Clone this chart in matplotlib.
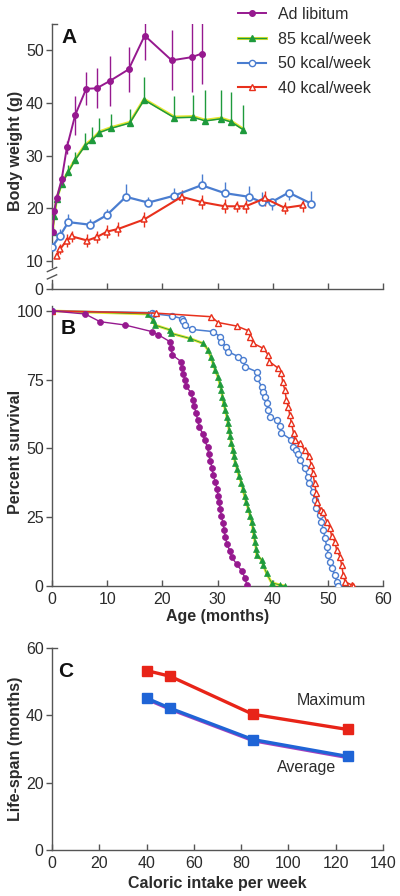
import matplotlib
matplotlib.use("Agg")
import matplotlib.pyplot as plt
from matplotlib.lines import Line2D
import matplotlib.transforms as mtrans
import numpy as np

plt.rcParams['font.family'] = ['Liberation Sans', 'DejaVu Sans']

# ---------------- Panel A: body weight ----------------
adlib_age = [0.1, 0.4, 0.85, 1.75, 2.7, 4.2, 6.2, 8.1, 10.5, 13.9, 16.8, 21.7, 25.3, 27.2]
adlib_wt = [15.5, 19.5, 22.0, 25.5, 31.6, 37.7, 42.7, 42.8, 44.2, 46.4, 52.8, 48.1, 48.7, 49.4]
adlib_err = [0.5, 0.8, 0.8, 1.0, 1.2, 3.7, 3.1, 3.8, 4.7, 4.3, 4.6, 5.7, 6.6, 5.8]

k85_age = [0.1, 0.4, 0.85, 1.75, 2.95, 4.2, 6.0, 7.2, 8.6, 10.7, 14.1, 16.7, 22.2, 25.6, 27.8, 30.6, 32.5, 34.7]
k85_wt = [15.6, 18.5, 21.7, 24.6, 26.9, 29.2, 31.9, 32.9, 34.4, 35.2, 36.2, 40.6, 37.2, 37.3, 36.6, 37.0, 36.4, 34.9]
k85_err = [0.8, 1.0, 1.0, 1.2, 1.3, 1.5, 2.5, 2.5, 2.8, 2.8, 2.7, 4.4, 4.1, 4.2, 5.8, 5.5, 5.6, 4.7]

k50_age = [0.05, 1.45, 2.95, 6.9, 9.9, 13.4, 17.45, 22.1, 27.1, 31.3, 35.7, 38.0, 39.8, 42.9, 47.0]
k50_wt = [12.75, 14.8, 17.4, 16.9, 18.7, 22.2, 21.1, 22.4, 24.4, 22.9, 22.2, 21.2, 21.2, 23.0, 20.9]
k50_err_up = [0.5, 1.2, 1.5, 1.0, 1.2, 2.4, 1.0, 1.5, 2.1, 2.1, 2.1, 1.9, 0.3, 0.3, 2.4]
k50_err_dn = [0, 0, 0, 0, 0, 0, 0, 0, 0, 0, 0, 0, 1.5, 1.5, 0]

k40_age = [0.85, 1.45, 2.65, 3.55, 6.4, 8.1, 10.0, 12.0, 16.7, 23.5, 27.1, 31.3, 33.6, 35.1, 38.6, 42.2, 45.5]
k40_wt = [11.0, 12.25, 13.9, 14.7, 13.9, 14.55, 15.6, 16.1, 17.9, 22.2, 21.2, 20.4, 20.4, 20.4, 21.9, 20.1, 20.6]
k40_err = [0.5, 1.0, 1.2, 1.0, 1.3, 1.2, 1.2, 1.3, 1.4, 1.3, 1.3, 1.3, 1.0, 1.2, 1.4, 1.2, 1.2]

# ---------------- Panel B: survival ----------------
sv_adlib_age = [0, 6.0, 8.7, 13.2, 18.1, 19.3, 21.4, 21.6, 21.8, 23.4, 23.6, 23.8, 24.1, 24.3, 25.2, 25.5,
                25.8, 26.1, 26.4, 26.7, 27.3, 27.7, 28.2, 28.4, 28.7, 29.0, 29.2, 29.6, 29.9, 30.1, 30.3,
                30.5, 30.7, 31.0, 31.2, 31.4, 31.7, 32.2, 32.6, 33.5, 34.4, 35.0, 35.3]
sv_adlib = [100, 98.9, 96.1, 94.9, 92.5, 91.3, 88.8, 86.5, 84.0, 81.6, 79.2, 77.0, 75.0, 72.6, 70.3, 67.8,
            65.3, 62.8, 60.3, 57.8, 55.4, 52.9, 50.4, 47.9, 45.4, 42.9, 40.4, 37.9, 35.4, 32.9, 30.4,
            27.9, 25.4, 22.9, 20.4, 17.9, 15.4, 12.9, 10.4, 7.9, 5.4, 2.9, 0.4]

sv_k85_age = [0, 17.4, 18.3, 18.6, 21.4, 21.5, 25.0, 27.4, 28.3, 28.8, 29.2, 29.6, 30.1, 30.4, 30.7, 30.9,
              31.1, 31.4, 31.7, 31.9, 32.1, 32.3, 32.5, 32.8, 33.0, 33.2, 33.6, 33.9, 34.3, 34.6, 34.9,
              35.2, 35.6, 35.9, 36.2, 36.4, 36.6, 36.8, 37.0, 37.1, 38.0, 38.3, 38.9, 39.8, 41.3, 42.2]
sv_k85 = [100, 98.9, 96.7, 94.9, 93.1, 91.9, 90.0, 88.2, 85.8, 83.2, 80.8, 78.4, 76.0, 73.6, 71.2, 68.8,
          66.4, 64.0, 61.6, 59.2, 56.8, 54.4, 52.0, 49.6, 47.2, 44.8, 42.4, 40.0, 37.6, 35.2, 32.8,
          30.4, 28.0, 25.6, 23.2, 20.8, 18.4, 16.0, 13.6, 11.2, 9.5, 7.6, 4.6, 1.2, 0.4, 0]

sv_k50_age = [0, 18.1, 18.4, 21.7, 23.6, 23.8, 24.1, 25.3, 29.2, 30.4, 30.7, 31.6, 31.9, 33.8, 34.7, 35.0,
              37.1, 37.2, 38.0, 38.2, 38.6, 38.9, 39.2, 39.5, 40.7, 41.3, 41.6, 43.4, 43.7, 44.3, 44.6,
              44.9, 45.8, 46.4, 46.6, 47.3, 47.6, 47.9, 48.5, 48.8, 49.2, 49.5, 49.8, 50.1, 50.4, 50.7,
              51.3, 51.6, 51.9]
sv_k50 = [100, 99.4, 99.0, 98.2, 97.2, 96.5, 95.0, 93.3, 92.5, 90.7, 88.8, 87.0, 85.2, 83.4, 82.2, 79.7,
          77.9, 75.5, 72.5, 70.7, 68.8, 66.4, 64.0, 61.6, 60.4, 58.0, 55.6, 53.1, 50.7, 49.5, 48.0,
          45.8, 42.8, 39.7, 37.3, 34.3, 31.3, 28.2, 25.8, 23.4, 20.4, 17.3, 14.3, 11.3, 8.8, 6.4,
          4.0, 1.6, 0]

sv_k40_age = [0, 18.9, 28.9, 30.1, 33.5, 35.6, 35.9, 36.5, 38.3, 39.2, 39.4, 41.0, 41.6, 41.8, 42.2, 42.5,
              42.8, 43.1, 43.4, 43.8, 44.0, 44.9, 45.8, 46.6, 47.0, 47.3, 47.6, 47.9, 48.0, 48.8, 49.1,
              49.8, 50.4, 50.7, 51.3, 51.6, 52.2, 52.5, 52.8, 53.1, 54.3, 54.6]
sv_k40 = [100, 99.2, 97.9, 95.8, 94.5, 92.8, 90.5, 88.2, 86.4, 84.0, 81.6, 79.2, 77.3, 74.3, 71.3, 67.6,
          65.2, 62.2, 59.2, 55.5, 53.1, 51.9, 49.5, 47.1, 44.0, 41.0, 37.3, 33.7, 30.5, 27.6, 27.0,
          23.4, 21.0, 18.0, 16.0, 13.0, 10.7, 7.6, 4.0, 1.6, 0.4, 0]

# ---------------- Panel C: life span ----------------
cal_intake = [40, 50, 85, 125]
max_life = [53.3, 51.6, 40.3, 35.8]
avg_life = [45.1, 42.1, 32.8, 27.8]

PURPLE = '#96198f'
GREEN = '#1e9a3c'
YELLOW = '#e6e630'
BLUE = '#4a7dd0'
RED = '#e8301c'
SPINE = '#555555'
TXT = '#2b2b2b'

W, H = 400, 896
fig = plt.figure(figsize=(4, 8.96), dpi=100)


def rect(l, t, r, b):
    return [l / W, 1 - b / H, (r - l) / W, (b - t) / H]


axA = fig.add_axes(rect(52, 24, 383, 289))
axB = fig.add_axes(rect(52, 306, 383, 586))
axC = fig.add_axes(rect(52, 648, 383, 850))

for ax in (axA, axB, axC):
    for s in ('top', 'right'):
        ax.spines[s].set_visible(False)
    for s in ('left', 'bottom'):
        ax.spines[s].set_color(SPINE)
        ax.spines[s].set_linewidth(1.0)
    ax.tick_params(axis='y', direction='out', length=4, width=1.0, color=SPINE,
                   labelsize=11.5, labelcolor=TXT, pad=2)
    ax.tick_params(axis='x', direction='in', length=4, width=1.0, color=SPINE,
                   labelsize=11.5, labelcolor=TXT, pad=4)
    ax.patch.set_visible(False)

YLAB_X = (23 - 52) / 331

# ---- Panel A ----
ybot = 4.7
axA.set_xlim(0, 60)
axA.set_ylim(ybot, 55)
axA.set_xticks(range(0, 61, 10))
axA.tick_params(axis='x', labelbottom=False)
axA.set_yticks([ybot, 10, 20, 30, 40, 50])
axA.set_yticklabels(['0', '10', '20', '30', '40', '50'])
axA.spines['left'].set_bounds(8.9, 55)
blend = mtrans.blended_transform_factory(axA.transAxes, axA.transData)
axA.plot([0, 0], [ybot, 6.5], color=SPINE, lw=1.0, transform=blend, clip_on=False)
axA.plot([-0.014, 0.014], [8.0, 8.8], color=SPINE, lw=1.0, transform=blend, clip_on=False)
axA.plot([-0.014, 0.014], [6.6, 7.4], color=SPINE, lw=1.0, transform=blend, clip_on=False)
axA.plot([0, 0.014], [55, 55], color=SPINE, lw=1.0, transform=blend, clip_on=False)

up1 = mtrans.offset_copy(axA.transData, fig=fig, x=0, y=0.8, units='dots')
axA.errorbar(adlib_age, adlib_wt, yerr=adlib_err, color=PURPLE, lw=1.4, marker='o', ms=4,
             elinewidth=1.0, capsize=0, zorder=5)
axA.plot(k85_age, k85_wt, color=YELLOW, lw=2.0, transform=up1, zorder=3)
axA.errorbar(k85_age, k85_wt, yerr=[np.zeros(len(k85_err)), k85_err], color=GREEN, lw=1.1,
             marker='^', ms=4.5, elinewidth=1.0, capsize=0, zorder=4)
axA.errorbar(k50_age, k50_wt, yerr=[k50_err_dn, k50_err_up], color=BLUE, lw=1.6, marker='o',
             ms=5, mfc='white', mew=1.2, elinewidth=1.0, capsize=0, zorder=4)
axA.errorbar(k40_age, k40_wt, yerr=k40_err, color=RED, lw=1.5, marker='^', ms=4.5, mfc='white',
             mew=1.1, elinewidth=1.0, capsize=0, zorder=4)
axA.set_ylabel('Body weight (g)', fontsize=11.5, fontweight='bold', color=TXT)
axA.yaxis.set_label_coords(YLAB_X, 0.52)
axA.text(0.03, 0.985, 'A', transform=axA.transAxes, fontsize=15, fontweight='bold',
         va='top', ha='left', color='#111111')

handles = [
    Line2D([], [], color=PURPLE, marker='o', ms=4, lw=1.4),
    (Line2D([], [], color=YELLOW, lw=2.2), Line2D([], [], color=GREEN, marker='^', ms=4.5, lw=1.0)),
    Line2D([], [], color=BLUE, marker='o', ms=4.5, mfc='white', lw=1.5),
    Line2D([], [], color=RED, marker='^', ms=4.5, mfc='white', lw=1.5),
]
labels = ['Ad libitum', '85 kcal/week', '50 kcal/week', '40 kcal/week']
fig.legend(handles, labels, loc='upper left', bbox_to_anchor=(238 / W, 1 - 7 / H),
           bbox_transform=fig.transFigure, frameon=False, fontsize=11.5, handlelength=1.75,
           handletextpad=0.75, labelspacing=0.6, borderpad=0, borderaxespad=0,
           labelcolor=TXT)

# ---- Panel B ----
axB.set_xlim(0, 60)
axB.set_ylim(0, 101.8)
axB.set_xticks(range(0, 61, 10))
axB.set_yticks([0, 25, 50, 75, 100])
axB.plot(sv_adlib_age, sv_adlib, color=PURPLE, lw=1.0, marker='o', ms=4.3, mew=0.5, zorder=5)
axB.plot(sv_k85_age, sv_k85, color=YELLOW, lw=2.0, zorder=3)
axB.plot(sv_k85_age, sv_k85, color=GREEN, lw=0.6, marker='^', ms=4.5, mew=0.5, zorder=4)
axB.plot(sv_k50_age, sv_k50, color=BLUE, lw=1.1, marker='o', ms=4.3, mfc='white', mew=1.0, zorder=4)
axB.plot(sv_k40_age, sv_k40, color=RED, lw=1.1, marker='^', ms=4.5, mfc='white', mew=1.0, zorder=4)
axB.set_ylabel('Percent survival', fontsize=11.5, fontweight='bold', color=TXT)
axB.yaxis.set_label_coords(YLAB_X, 0.48)
axB.set_xlabel('Age (months)', fontsize=11.5, fontweight='bold', color=TXT, labelpad=2)
axB.text(0.027, 0.955, 'B', transform=axB.transAxes, fontsize=15, fontweight='bold',
         va='top', ha='left', color='#111111')

# ---- Panel C ----
axC.set_xlim(0, 140)
axC.set_ylim(0, 60)
axC.set_xticks(range(0, 141, 20))
axC.set_yticks([0, 20, 40, 60])
blendC = mtrans.blended_transform_factory(axC.transAxes, axC.transData)
axC.plot([0, 0.014], [60, 60], color=SPINE, lw=1.0, transform=blendC, clip_on=False)
dn = mtrans.offset_copy(axC.transData, fig=fig, x=0.5, y=-1.2, units='dots')
axC.plot(cal_intake, avg_life, color='#a040c0', lw=2.4, transform=dn, zorder=3)
axC.plot(cal_intake, avg_life, color='#1f64d6', lw=2.4, marker='s', ms=6.5, zorder=4)
axC.plot(cal_intake, max_life, color='#e82418', lw=2.4, marker='s', ms=6.5, zorder=4)
axC.text(118, 44.3, 'Maximum', fontsize=11.5, ha='center', va='center', color=TXT)
axC.text(107.5, 24.5, 'Average', fontsize=11.5, ha='center', va='center', color=TXT)
axC.set_ylabel('Life-span (months)', fontsize=11.5, fontweight='bold', color=TXT)
axC.yaxis.set_label_coords(YLAB_X, 0.5)
axC.set_xlabel('Caloric intake per week', fontsize=11.5, fontweight='bold', color=TXT, labelpad=4)
axC.text(0.02, 0.93, 'C', transform=axC.transAxes, fontsize=15, fontweight='bold',
         va='top', ha='left', color='#111111')

fig.savefig('out.png', dpi=100)
